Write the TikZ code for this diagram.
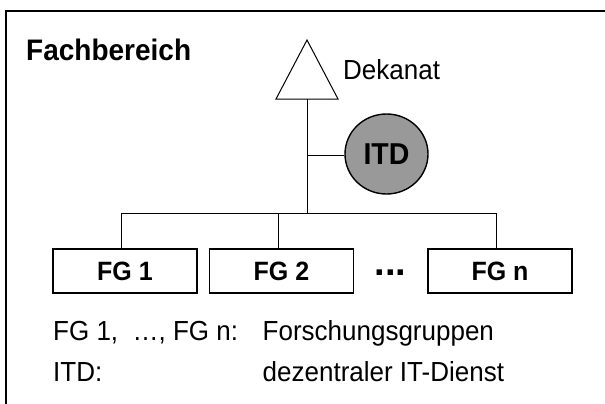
\documentclass[tikz,border=0pt]{standalone}
\usepackage{fontspec}
\setmainfont{Liberation Sans}
\usetikzlibrary{shapes.geometric}
\newcommand{\vstr}[1]{\scalebox{1}[1.06]{#1}}
\tikzset{
  frameline/.style={line width=1.8pt},
  conn/.style={line width=1pt},
  fgbox/.style={draw, line width=1.8pt, minimum width=144pt, minimum height=44pt, inner sep=0pt,
    font=\fontsize{25}{30}\selectfont\bfseries},
  itdnode/.style={ellipse, draw, line width=1.4pt, fill=black!40, minimum width=83pt, minimum height=80pt,
    inner sep=0pt, font=\fontsize{28.5}{32}\selectfont\bfseries},
  lbl/.style={inner sep=0pt, font=\fontsize{26}{30}\selectfont},
}
\begin{document}
\begin{tikzpicture}[x=1pt,y=-1pt]
\useasboundingbox (0,0) rectangle (605,404);
% frame (top and left only visible)
\draw[frameline] (605,11) -- (6,11) -- (6,404);
\node[inner sep=0pt, anchor=base west, font=\fontsize{28}{32}\selectfont\bfseries] (fb) at (26,60) {\vstr{Fachbereich}};
% Dekanat triangle
\coordinate (apex) at (307,40);
\coordinate (bl) at (276,99);
\coordinate (br) at (338,99);
\coordinate (dek) at (307,99);
\draw[conn, line join=miter] (apex) -- (br) -- (bl) -- cycle;
\node[lbl, anchor=base west] (dektxt) at (343,79) {\vstr{Dekanat}};
% ITD
\node[itdnode] (itd) at (386.5,154) {\vstr{ITD}};
\coordinate (jitd) at (307,155);
\coordinate (jbar) at (307,213);
\draw[conn] (dek) -- (jbar);
\draw[conn] (jitd) -- (jitd -| itd.west);
% boxes
\node[fgbox] (fg1) at (125,271) {\vstr{FG 1}};
\node[fgbox] (fg2) at (281.5,271) {\vstr{FG 2}};
\node[fgbox] (fgn) at (500,271) {\vstr{FG n}};
\node[inner sep=0pt, anchor=base, font=\fontsize{38}{40}\selectfont\bfseries] (dots) at (390.5,275.5) {...};
\coordinate (b1) at (121.6,213);
\coordinate (b2) at (278,213);
\coordinate (bn) at (496,213);
\draw[conn] (b1) -- (bn);
\draw[conn] (b1) -- (b1 |- fg1.north);
\draw[conn] (b2) -- (b2 |- fg2.north);
\draw[conn] (bn) -- (bn |- fgn.north);
% legend
\node[lbl, anchor=base west] (l1a) at (53,340) {\vstr{FG 1,\ \ …, FG n:}};
\node[lbl, anchor=base west] (l1b) at (262.5,340) {\vstr{Forschungsgruppen}};
\node[lbl, anchor=base west] (l2a) at (53,381) {\vstr{ITD:}};
\node[lbl, anchor=base west] (l2b) at (262.5,381) {\vstr{dezentraler IT-Dienst}};
\end{tikzpicture}
\end{document}
